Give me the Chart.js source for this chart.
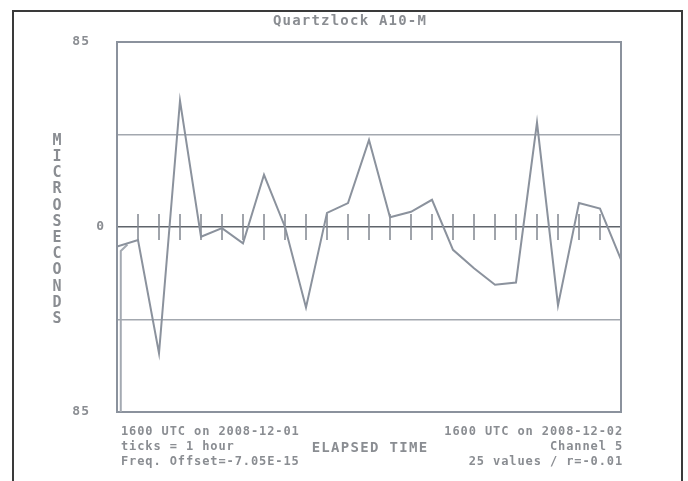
<!DOCTYPE html>
<html>
<head>
<meta charset="utf-8">
<title>Quartzlock A10-M</title>
<script src="https://cdn.jsdelivr.net/npm/chart.js@4.4.1/dist/chart.umd.min.js"></script>
<style>
	html, body { margin: 0; padding: 0; background: #fff; }
	#wrap { width: 688px; height: 481px; }
</style>
</head>
<body>
<div id="wrap"><canvas id="chartQuartz" width="688" height="481"></canvas></div>
<script>
// Données (une valeur par heure)
var hours = [0, 1, 2, 3, 4, 5, 6, 7, 8, 9, 10, 11, 12, 13, 14, 15, 16, 17, 18, 19, 20, 21, 22, 23, 24];
var microseconds = [-9, -6, -58, 58, -4.5, -0.5, -7.5, 24, 0, -37, 6.5, 11, 40, 4.5, 7, 12.5, -10.5, -19, -26.5, -25.5, 48, -36, 11, 8.5, -15];
// trait du stylo au départ
var leadInHours = [0.18, 0.18, 0.5];
var leadInValues = [-85, -11, -8];
var hourTicks = [1, 2, 3, 4, 5, 6, 7, 8, 9, 10, 11, 12, 13, 14, 15, 16, 17, 18, 19, 20, 21, 22, 23];
var yTicks = [-85, -42.5, 0, 42.5, 85];
var yTickLabels = ["85", "", "0", "", "85"];
var leftNotes = ["1600 UTC on 2008-12-01", "ticks = 1 hour", "Freq. Offset=-7.05E-15"];
var rightNotes = ["1600 UTC on 2008-12-02", "Channel 5", "25 values / r=-0.01"];

var lineColor = "#8b929d";
var textColor = "#8a8d92";

function toPoints(xs, ys) {
	return xs.map(function(x, i) { return { x: x, y: ys[i] }; });
}

// Cadre, titre et textes autour du tracé
var decorPlugin = {
	id: 'decor',
	beforeDraw: function(chart) {
		var ctx = chart.ctx;
		ctx.save();
		ctx.fillStyle = "#fff";
		ctx.fillRect(0, 0, chart.width, chart.height);
		ctx.strokeStyle = "#3a3a3a";
		ctx.lineWidth = 2;
		ctx.beginPath();
		ctx.moveTo(13, 490);
		ctx.lineTo(13, 11);
		ctx.lineTo(682, 11);
		ctx.lineTo(682, 490);
		ctx.stroke();
		ctx.restore();
	},
	afterDraw: function(chart) {
		var ctx = chart.ctx;
		var area = chart.chartArea;
		var y = chart.scales.y;
		ctx.save();
		// bord droit et haut du tracé
		ctx.strokeStyle = "#8b929d";
		ctx.lineWidth = 2;
		ctx.beginPath();
		ctx.moveTo(area.left, area.top);
		ctx.lineTo(area.right, area.top);
		ctx.lineTo(area.right, area.bottom);
		ctx.stroke();

		ctx.fillStyle = textColor;
		ctx.textBaseline = 'middle';

		ctx.font = "bold 14px 'DejaVu Sans Mono'";
		ctx.letterSpacing = "1.2px";
		ctx.textAlign = 'center';
		ctx.fillText("Quartzlock A10-M", 350, 21);

		// étiquettes de l'axe Y
		ctx.font = "bold 13px 'DejaVu Sans Mono'";
		ctx.letterSpacing = "1px";
		ctx.textAlign = 'right';
		yTicks.forEach(function(v, i) {
			if (yTickLabels[i] === "") return;
			var x = v === 0 ? 105 : 90;
			ctx.fillText(yTickLabels[i], x, y.getPixelForValue(v));
		});

		// titre vertical
		ctx.font = "bold 15px 'DejaVu Sans Mono'";
		ctx.letterSpacing = "0px";
		ctx.textAlign = 'center';
		var word = "MICROSECONDS";
		for (var i = 0; i < word.length; i++) {
			ctx.fillText(word[i], 57, 141 + i * 16.2);
		}

		ctx.font = "bold 12px 'DejaVu Sans Mono'";
		ctx.letterSpacing = "0.9px";
		ctx.textAlign = 'left';
		leftNotes.forEach(function(t, i) {
			ctx.fillText(t, 121, 432 + i * 15);
		});
		ctx.textAlign = 'right';
		rightNotes.forEach(function(t, i) {
			ctx.fillText(t, 623, 432 + i * 15);
		});

		ctx.font = "bold 14px 'DejaVu Sans Mono'";
		ctx.letterSpacing = "1.3px";
		ctx.textAlign = 'center';
		ctx.fillText("ELAPSED TIME", 370, 448);
		ctx.restore();
	}
};

var ctxChartQuartz = document.getElementById("chartQuartz");
var chartQuartz = new Chart(ctxChartQuartz, {
	type: 'scatter',
	data: {
		datasets: [
			{
				label: "Quartzlock A10-M",
				data: toPoints(hours, microseconds),
				showLine: true,
				borderColor: lineColor,
				borderWidth: 2,
				pointRadius: 0,
				tension: 0
			},
			{
				label: "lead-in",
				data: toPoints(leadInHours, leadInValues),
				showLine: true,
				borderColor: "#a4aab2",
				borderWidth: 2,
				pointRadius: 0
			},
			{
				label: "ticks",
				data: hourTicks.map(function(h) { return { x: h, y: 0 }; }),
				showLine: false,
				pointStyle: 'line',
				rotation: 90,
				pointRadius: 13,
				borderColor: "#80868f",
				borderWidth: 1.5
			}
		]
	},
	plugins: [decorPlugin],
	options: {
		responsive: false,
		animation: false,
		events: [],
		layout: { padding: { left: 117, top: 42, right: 67, bottom: 69 } },
		plugins: {
			legend: { display: false },
			tooltip: { enabled: false },
			title: { display: false }
		},
		scales: {
			x: {
				type: 'linear',
				min: 0,
				max: 24,
				display: true,
				ticks: { display: false },
				grid: { display: false, drawTicks: false },
				border: { display: true, color: "#8b929d", width: 2 }
			},
			y: {
				min: -85,
				max: 85,
				afterBuildTicks: function(axis) {
					axis.ticks = yTicks.map(function(v) { return { value: v }; });
				},
				ticks: { display: false },
				grid: {
					drawTicks: false,
					color: function(c) {
						if (c.tick && c.tick.value === 0) return "#5f646b";
						return "#a3a8af";
					},
					lineWidth: 1.5
				},
				border: { display: true, color: "#8b929d", width: 2 }
			}
		}
	}
});
</script>
</body>
</html>
